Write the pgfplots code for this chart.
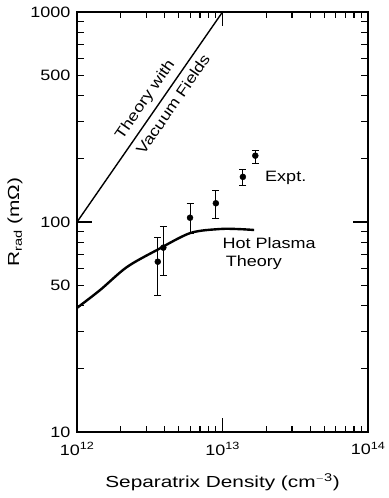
\documentclass[border=0pt]{standalone}
\usepackage{pgfplots}
\pgfplotsset{compat=1.18}
\usepackage{fontspec}
\setmainfont[FakeStretch=1.2]{Liberation Sans}
\newfontfamily\widefont[FakeStretch=1.3]{Liberation Sans}
\newcommand\lab{\fontsize{15}{17}\selectfont}
\pgfplotsset{tk/.style={black, line width=1.2pt, forget plot}}
\begin{document}
\begin{tikzpicture}
\begin{axis}[
  name=ax,
  xmode=log, ymode=log,
  scale only axis,
  width=291pt, height=420pt,
  xmin=1e12, xmax=1e14, ymin=10, ymax=1000,
  xtick={1e12,1e13,1e14},
  xticklabels={10\textsuperscript{12},10\textsuperscript{13},10\textsuperscript{14}},
  ytick={10,50,100,500,1000},
  yticklabels={10,50,100,500,1000},
  major tick length=0pt, minor tick length=0pt,
  axis line style={black, line width=2pt},
  every tick label/.append style={font=\lab},
  xticklabel style={yshift=-7pt},
  yticklabel style={xshift=-3pt},
  xlabel={\widefont\fontsize{16}{18}\selectfont Separatrix Density (cm\textsuperscript{$-$3})},
  ylabel={\widefont\fontsize{16}{18}\selectfont R\textsubscript{rad}\hspace{5pt}(mΩ)},
  every axis x label/.style={at={(rel axis cs:0.5,0)}, anchor=center, yshift=-50pt},
  every axis y label/.style={at={(rel axis cs:0,0.5)}, anchor=center, xshift=-62pt, rotate=90},
  clip=false,
]
% tick marks drawn as short segments in data coordinates (inside, all four sides)
\pgfplotsinvokeforeach{2e12,3e12,4e12,5e12,6e12,7e12,8e12,9e12,2e13,3e13,4e13,5e13,6e13,7e13,8e13,9e13}{
  \addplot[tk] coordinates {(#1,10) (#1,10.68)};
  \addplot[tk] coordinates {(#1,1000) (#1,936)};
}
\addplot[tk] coordinates {(1e13,10) (1e13,11.66)};
\addplot[tk] coordinates {(1e13,1000) (1e13,857.6)};
\pgfplotsinvokeforeach{20,30,40,50,60,70,80,90,200,300,400,500,600,700,800,900}{
  \addplot[tk] coordinates {(1e12,#1) (1.117e12,#1)};
  \addplot[tk] coordinates {(1e14,#1) (8.95e13,#1)};
}
\addplot[tk] coordinates {(1e12,100) (1.268e12,100)};
\addplot[tk] coordinates {(1e14,100) (7.88e13,100)};
% Theory with vacuum fields
\addplot[black, line width=1.4pt] coordinates {(1e12,100) (1e13,1000)};
% Hot plasma theory
\addplot[black, line width=2.4pt, smooth] coordinates {
 (1e12,39) (1.44e12,47.4) (2.2e12,61) (3.55e12,73.6) (6e12,88.6) (9.6e12,92.6) (1.3e13,92.5) (1.65e13,91.6)};
% Experiment
\addplot[black, only marks, mark=*, mark size=3pt,
  error bars/.cd, y dir=both, y explicit,
  error mark options={rotate=90, mark size=3.5pt, line width=1pt},
  error bar style={line width=1pt}]
 table[x=x, y=y, y error plus=ep, y error minus=em] {
 x y ep em
 3.59e12 64.7 19.3 20.1
 3.92e12 75.5 19.5 20
 5.98e12 104.8 17.2 16.5
 9.0e12 122.8 18.2 18.8
 1.38e13 164 14 14
 1.68e13 207 11 17
};
\node[font=\lab, rotate=55.4, anchor=south, inner sep=0pt, yshift=6pt] at (axis cs:3.51e12,351) {Theory with};
\node[font=\lab, rotate=55.4, anchor=north, inner sep=0pt, yshift=-6pt] at (axis cs:3.92e12,392) {Vacuum Fields};
\node[font=\lab, anchor=west, inner sep=0pt] at (axis cs:1.96e13,162) {Expt.};
\node[font=\lab, anchor=west, inner sep=0pt] at (axis cs:1.0e13,79.4) {Hot Plasma};
\node[font=\lab, anchor=west, inner sep=0pt] at (axis cs:1.05e13,63.8) {Theory};
\end{axis}
\pgfresetboundingbox
\path[use as bounding box] ([xshift=-77pt,yshift=-66pt]ax.south west) rectangle ([xshift=20pt,yshift=12pt]ax.north east);
\end{tikzpicture}
\end{document}
